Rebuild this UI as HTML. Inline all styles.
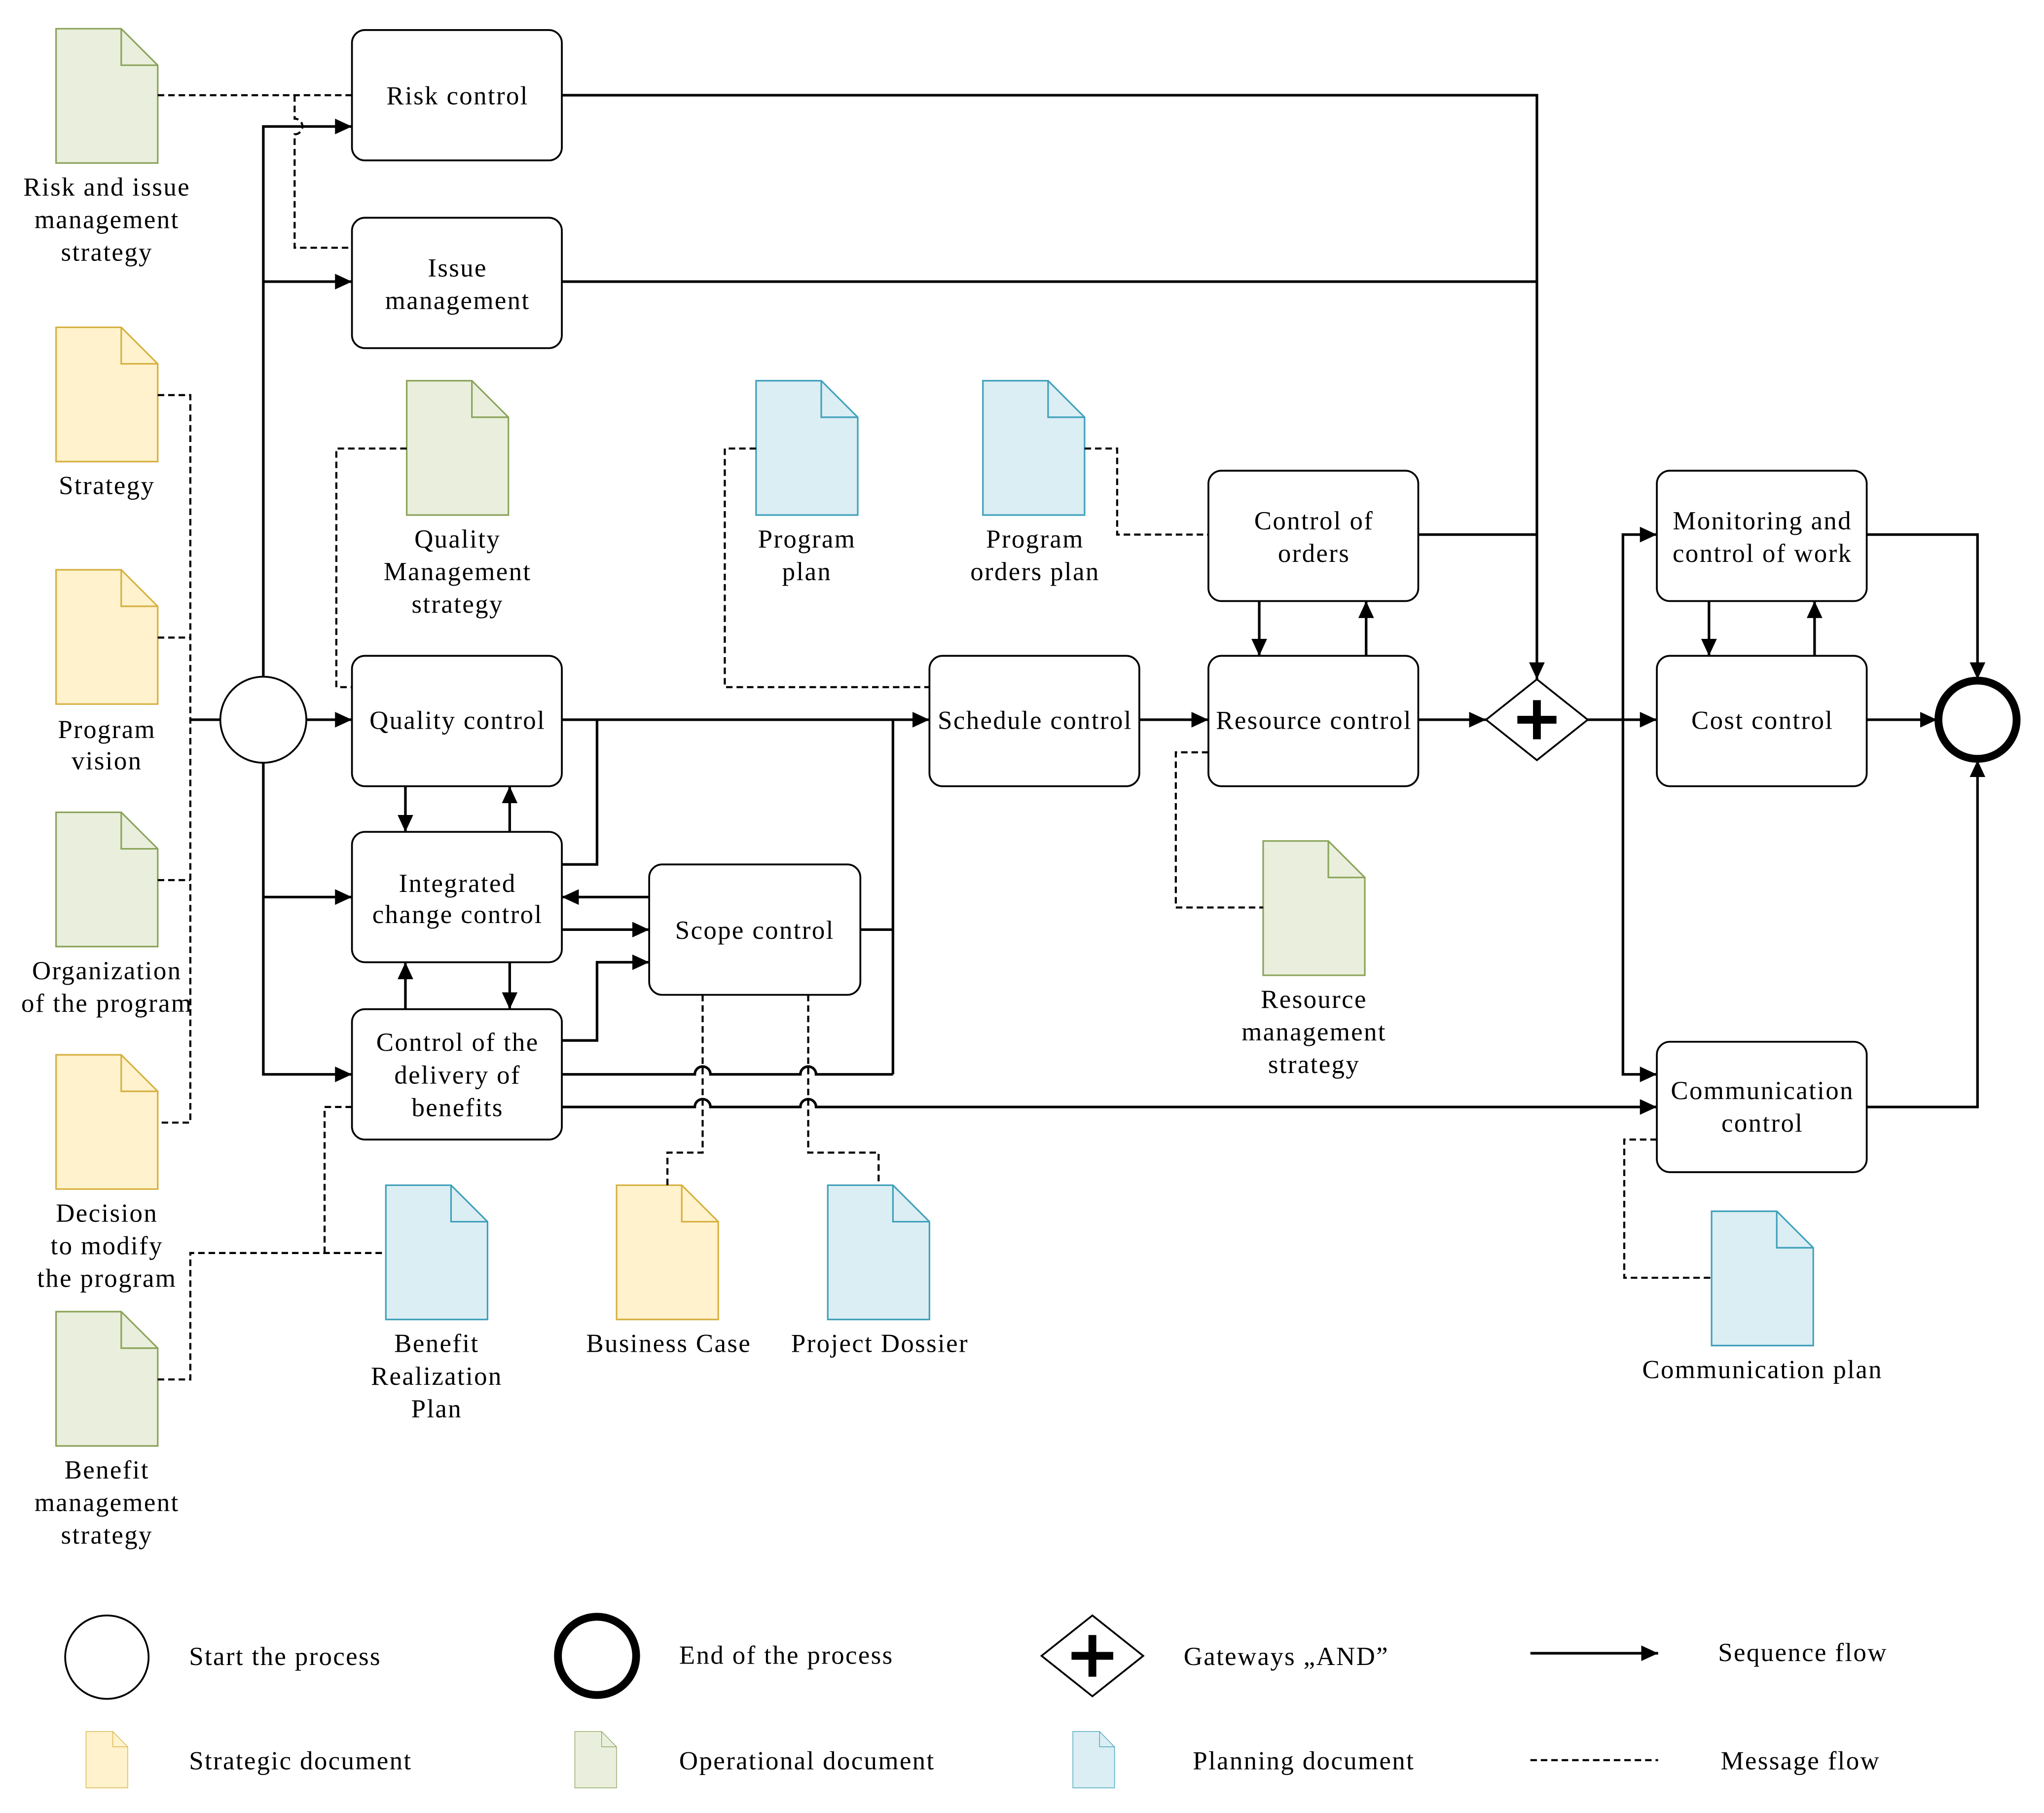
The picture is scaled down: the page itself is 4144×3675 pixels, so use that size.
<!DOCTYPE html>
<html><head><meta charset="utf-8"><style>html,body{margin:0;padding:0;background:#fff}svg{display:block}</style></head><body>
<svg xmlns="http://www.w3.org/2000/svg" width="4144" height="3675" viewBox="0 0 1568 1390.5">
<defs>
<marker id="a" markerWidth="14" markerHeight="12" refX="13" refY="6" orient="auto" markerUnits="userSpaceOnUse"><path d="M0,0 L13,6 L0,12 Z" fill="#000"/></marker>
<g id="docG"><path d="M0,0 H50 L78,28 V103 H0 Z" fill="#e9efdc" stroke="#8ba35a" stroke-width="1.2"/><path d="M50,0 V28 H78" fill="none" stroke="#8ba35a" stroke-width="1.2"/></g>
<g id="docY"><path d="M0,0 H50 L78,28 V103 H0 Z" fill="#fff2cc" stroke="#d6b040" stroke-width="1.2"/><path d="M50,0 V28 H78" fill="none" stroke="#d6b040" stroke-width="1.2"/></g>
<g id="docB"><path d="M0,0 H50 L78,28 V103 H0 Z" fill="#dbeef3" stroke="#3fa0bb" stroke-width="1.2"/><path d="M50,0 V28 H78" fill="none" stroke="#3fa0bb" stroke-width="1.2"/></g>
</defs>
<rect width="1568" height="1391" fill="#fff"/>
<g font-family="Liberation Serif, serif" font-size="20" letter-spacing="0.9" fill="#000" text-anchor="middle">

<use href="#docG" x="43" y="22"/>
<use href="#docY" x="43" y="251"/>
<use href="#docY" x="43" y="437"/>
<use href="#docG" x="43" y="623"/>
<use href="#docY" x="43" y="809"/>
<use href="#docG" x="43" y="1006"/>
<use href="#docG" x="312" y="292"/>
<use href="#docB" x="580" y="292"/>
<use href="#docB" x="754" y="292"/>
<use href="#docG" x="969" y="645"/>
<use href="#docY" x="473" y="909"/>
<use href="#docB" x="635" y="909"/>
<use href="#docB" x="296" y="909"/>
<use href="#docB" x="1313" y="929"/>

<text x="82" y="150">Risk and issue</text><text x="82" y="175">management</text><text x="82" y="200">strategy</text>
<text x="82" y="379">Strategy</text>
<text x="82" y="566">Program</text><text x="82" y="590">vision</text>
<text x="82" y="751">Organization</text><text x="82" y="776">of the program</text>
<text x="82" y="937">Decision</text><text x="82" y="962">to modify</text><text x="82" y="987">the program</text>
<text x="82" y="1134">Benefit</text><text x="82" y="1159">management</text><text x="82" y="1184">strategy</text>
<text x="351" y="420">Quality</text><text x="351" y="445">Management</text><text x="351" y="470">strategy</text>
<text x="619" y="420">Program</text><text x="619" y="445">plan</text>
<text x="794" y="420">Program</text><text x="794" y="445">orders plan</text>
<text x="1008" y="773">Resource</text><text x="1008" y="798">management</text><text x="1008" y="823">strategy</text>
<text x="513" y="1037">Business Case</text>
<text x="675" y="1037">Project Dossier</text>
<text x="335" y="1037">Benefit</text><text x="335" y="1062">Realization</text><text x="335" y="1087">Plan</text>
<text x="1352" y="1057">Communication plan</text>

<g fill="none" stroke="#000" stroke-width="1.6" stroke-dasharray="5,3">
<path d="M121,73 H270"/>
<path d="M226,73 V91 a6,6 0 0 1 0,12 V190 H270"/>
<path d="M121,303 H146 V861 H121 M121,489 H146 M121,675 H146"/>
<path d="M121,1058 H146 V961 H296"/>
<path d="M270,849 H249 V961"/>
<path d="M312,344 H258 V527 H270"/>
<path d="M580,344 H556 V527 H713"/>
<path d="M832,344 H857 V410 H927"/>
<path d="M927,577 H902 V696 H969"/>
<path d="M539,763 V884 H512 V909"/>
<path d="M620,763 V884 H674 V909"/>
<path d="M1271,874 H1246 V980 H1313"/>
</g>

<g fill="none" stroke="#000" stroke-width="2">
<path d="M146,552 H170"/>
<path d="M202,519 V97 H270" marker-end="url(#a)"/>
<path d="M202,216 H270" marker-end="url(#a)"/>
<path d="M235,552 H270" marker-end="url(#a)"/>
<path d="M202,585 V824 H270" marker-end="url(#a)"/>
<path d="M202,688 H270" marker-end="url(#a)"/>
<path d="M431,73 H1179 V521" marker-end="url(#a)"/>
<path d="M431,216 H1179"/>
<path d="M1088,410 H1179"/>
<path d="M431,552 H713" marker-end="url(#a)"/>
<path d="M431,663 H458 V552"/>
<path d="M311,603 V638" marker-end="url(#a)"/>
<path d="M391,638 V603" marker-end="url(#a)"/>
<path d="M391,738 V774" marker-end="url(#a)"/>
<path d="M311,774 V738" marker-end="url(#a)"/>
<path d="M498,688 H431" marker-end="url(#a)"/>
<path d="M431,713 H498" marker-end="url(#a)"/>
<path d="M431,798 H458 V738 H498" marker-end="url(#a)"/>
<path d="M660,713 H685 M685,552 V824"/>
<path d="M431,824 H533 a6,6 0 0 1 12,0 H614 a6,6 0 0 1 12,0 H685"/>
<path d="M431,849 H533 a6,6 0 0 1 12,0 H614 a6,6 0 0 1 12,0 H1271" marker-end="url(#a)"/>
<path d="M874,552 H927" marker-end="url(#a)"/>
<path d="M1088,552 H1140" marker-end="url(#a)"/>
<path d="M1218,552 H1271" marker-end="url(#a)"/>
<path d="M1245,552 V410 H1271" marker-end="url(#a)"/>
<path d="M1245,552 V824 H1271" marker-end="url(#a)"/>
<path d="M966,461 V503" marker-end="url(#a)"/>
<path d="M1048,503 V461" marker-end="url(#a)"/>
<path d="M1311,461 V503" marker-end="url(#a)"/>
<path d="M1392,503 V461" marker-end="url(#a)"/>
<path d="M1432,410 H1517 V521" marker-end="url(#a)"/>
<path d="M1432,552 H1486" marker-end="url(#a)"/>
<path d="M1432,849 H1517 V583" marker-end="url(#a)"/>
</g>

<g fill="#fff" stroke="#000" stroke-width="1.4">
<rect x="270" y="23" width="161" height="100" rx="10"/>
<rect x="270" y="167" width="161" height="100" rx="10"/>
<rect x="270" y="503" width="161" height="100" rx="10"/>
<rect x="270" y="638" width="161" height="100" rx="10"/>
<rect x="270" y="774" width="161" height="100" rx="10"/>
<rect x="498" y="663" width="162" height="100" rx="10"/>
<rect x="713" y="503" width="161" height="100" rx="10"/>
<rect x="927" y="361" width="161" height="100" rx="10"/>
<rect x="927" y="503" width="161" height="100" rx="10"/>
<rect x="1271" y="361" width="161" height="100" rx="10"/>
<rect x="1271" y="503" width="161" height="100" rx="10"/>
<rect x="1271" y="799" width="161" height="100" rx="10"/>
<circle cx="202" cy="552" r="33"/>
<path d="M1179,521 L1218,552 L1179,583 L1140,552 Z"/>
</g>
<circle cx="1517" cy="552" r="30" fill="#fff" stroke="#000" stroke-width="6"/>
<path d="M1179,537 V567 M1164,552 H1194" stroke="#000" stroke-width="6"/>

<text x="351" y="80">Risk control</text>
<text x="351" y="212">Issue</text><text x="351" y="237">management</text>
<text x="351" y="559">Quality control</text>
<text x="351" y="684">Integrated</text><text x="351" y="708">change control</text>
<text x="351" y="806">Control of the</text><text x="351" y="831">delivery of</text><text x="351" y="856">benefits</text>
<text x="579" y="720">Scope control</text>
<text x="794" y="559">Schedule control</text>
<text x="1008" y="406">Control of</text><text x="1008" y="431">orders</text>
<text x="1008" y="559">Resource control</text>
<text x="1352" y="406">Monitoring and</text><text x="1352" y="431">control of work</text>
<text x="1352" y="559">Cost control</text>
<text x="1352" y="843">Communication</text><text x="1352" y="868">control</text>

<circle cx="82" cy="1271" r="32" fill="#fff" stroke="#000" stroke-width="1.4"/>
<circle cx="458" cy="1270" r="30" fill="#fff" stroke="#000" stroke-width="6"/>
<path d="M838,1239 L877,1270 L838,1301 L799,1270 Z" fill="#fff" stroke="#000" stroke-width="1.4"/>
<path d="M838,1254 V1286 M822,1270 H854" stroke="#000" stroke-width="6"/>
<path d="M1174,1268 H1272" stroke="#000" stroke-width="2" marker-end="url(#a)"/>
<path d="M1174,1350 H1272" stroke="#000" stroke-width="1.6" stroke-dasharray="5,3"/>
<g transform="translate(66,1328) scale(0.41,0.42)"><use href="#docY"/></g>
<g transform="translate(441,1328) scale(0.41,0.42)"><use href="#docG"/></g>
<g transform="translate(823,1328) scale(0.41,0.42)"><use href="#docB"/></g>
<g text-anchor="start">
<text x="145" y="1277">Start the process</text>
<text x="521" y="1276">End of the process</text>
<text x="908" y="1277">Gateways „AND”</text>
<text x="1318" y="1274">Sequence flow</text>
<text x="145" y="1357">Strategic document</text>
<text x="521" y="1357">Operational document</text>
<text x="915" y="1357">Planning document</text>
<text x="1320" y="1357">Message flow</text>
</g>
</g>
</svg>
</body></html>
